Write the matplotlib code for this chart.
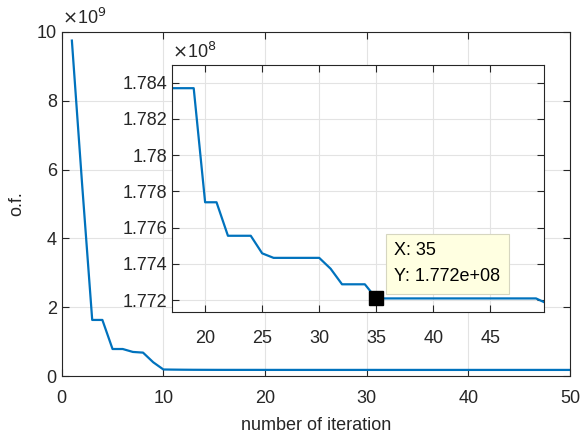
import matplotlib
matplotlib.use("Agg")
import matplotlib.pyplot as plt
from matplotlib.ticker import FuncFormatter

# ======================
# |       DATA         |
# ======================
iterations = list(range(1, 51))
of_values = [9.75e9, 5.6e9, 1.63e9, 1.63e9, 0.785e9, 0.785e9, 0.70e9, 0.68e9, 0.40e9, 1.90e8,
             1.86e8, 1.83e8, 1.81e8, 1.80e8, 1.79e8, 1.785e8, 1.7837e8, 1.7837e8, 1.7837e8, 1.7774e8,
             1.7774e8, 1.77555e8, 1.77555e8, 1.77555e8, 1.77458e8, 1.77433e8, 1.77433e8, 1.77433e8, 1.77433e8, 1.77433e8,
             1.77373e8, 1.77287e8, 1.77287e8, 1.77287e8, 1.77209e8, 1.77209e8, 1.77209e8, 1.77209e8, 1.77209e8, 1.77209e8,
             1.77209e8, 1.77209e8, 1.77209e8, 1.77209e8, 1.77209e8, 1.77209e8, 1.77209e8, 1.77209e8, 1.77209e8, 1.7718e8]

main_xticks = [0, 10, 20, 30, 40, 50]
main_yticks = [0, 2e9, 4e9, 6e9, 8e9, 10e9]
inset_xticks = [20, 25, 30, 35, 40, 45]
inset_yticks = [1.772e8, 1.774e8, 1.776e8, 1.778e8, 1.780e8, 1.782e8, 1.784e8]

tip_x = 35
tip_y = 1.77209e8
tip_text = "X: 35\nY: 1.772e+08"

# ======================
# |      STYLE         |
# ======================
plt.rcParams['font.family'] = ['Liberation Sans', 'DejaVu Sans']
plt.rcParams['font.size'] = 13
line_color = "#0072BD"
grid_color = "#E3E3E3"
spine_color = "#262626"


def style_axes(ax):
    ax.grid(True, color=grid_color, linewidth=0.8)
    ax.set_axisbelow(True)
    ax.tick_params(direction="in", top=True, right=True, length=5,
                   color=spine_color, labelcolor="#262626", labelsize=13)
    for s in ax.spines.values():
        s.set_color(spine_color)
        s.set_linewidth(0.8)


fig = plt.figure(figsize=(5.8, 4.34), dpi=100)

# Main axes
ax = fig.add_axes([0.1064, 0.1336, 0.8764, 0.7927])
ax.plot(iterations, of_values, color=line_color, linewidth=1.6)
ax.set_xlim(0, 50)
ax.set_ylim(0, 10e9)
ax.set_xticks(main_xticks)
ax.set_yticks(main_yticks)
ax.yaxis.set_major_formatter(FuncFormatter(lambda v, p: "%g" % (v / 1e9)))
style_axes(ax)
ax.tick_params(axis="x", pad=10)
ax.set_xlabel("number of iteration", fontsize=13, color="#262626", labelpad=7)
ax.set_ylabel("o.f.", fontsize=13, color="#262626", labelpad=8)
ax.text(0.0, 1.012, r"$\times$10$^{9}$", transform=ax.transAxes, fontsize=13,
        ha="left", va="bottom", color="#262626")

# Inset axes
axin = fig.add_axes([0.2966, 0.2811, 0.6413, 0.5691])
axin.plot(iterations, of_values, color=line_color, linewidth=1.6)
axin.set_xlim(17.1, 49.7)
axin.set_ylim(1.77134e8, 1.78498e8)
axin.set_xticks(inset_xticks)
axin.set_yticks(inset_yticks)
axin.yaxis.set_major_formatter(FuncFormatter(lambda v, p: "%g" % round(v / 1e8, 3)))
style_axes(axin)
axin.tick_params(axis="x", pad=13)
axin.text(0.0, 1.012, r"$\times$10$^{8}$", transform=axin.transAxes, fontsize=13,
          ha="left", va="bottom", color="#262626")

# Data tip
axin.plot([tip_x], [tip_y], marker="s", markersize=10, color="black", zorder=5)
axin.annotate(tip_text, xy=(tip_x, tip_y), xytext=(18, 13), textcoords="offset pixels",
              ha="left", va="bottom", fontsize=13, linespacing=1.75,
              bbox=dict(boxstyle="square,pad=0.45", facecolor="#FFFFE1",
                        edgecolor="#D6D6C0", linewidth=0.8))

fig.savefig("out.png", dpi=100, facecolor="white")
